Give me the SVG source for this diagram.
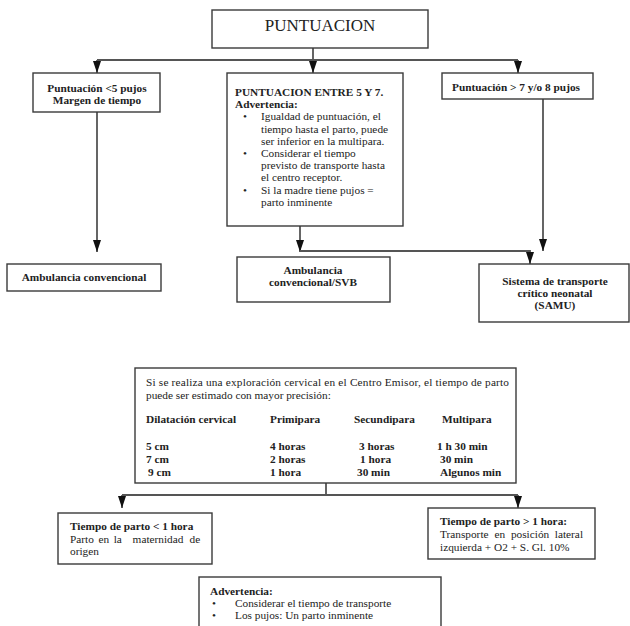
<svg xmlns="http://www.w3.org/2000/svg" width="630" height="626" viewBox="0 0 630 626">
<defs>
<marker id="ah" viewBox="0 0 12 8" refX="12" refY="4" markerWidth="12" markerHeight="8" markerUnits="userSpaceOnUse" orient="auto">
<path d="M0,0 L12,4 L0,8 z" fill="#111"/>
</marker>
<style>
.box{fill:#fff;stroke:#3a3a3a;stroke-width:1.4}
.t{font-family:"Liberation Serif","Times New Roman",serif;font-size:11.3px;fill:#222}
.b{font-weight:bold}
.c{text-anchor:middle}
.ln{fill:none;stroke:#555;stroke-width:1.8}
.ar{marker-end:url(#ah)}
</style>
</defs>
<rect width="630" height="626" fill="#fff"/>

<g id="connectors">
<path class="ln" d="M313,48 V60 M97,60 H518"/>
<path class="ln ar" d="M97,60 V73"/>
<path class="ln ar" d="M313,60 V73"/>
<path class="ln ar" d="M518,60 V73"/>
<path class="ln ar" d="M97,112 V252"/>
<path class="ln ar" d="M300,226 V252"/>
<path class="ln ar" d="M300,251 H530 V264"/>
<path class="ln ar" d="M543,99 V251"/>
<path class="ln" d="M326,483 V495 M122,495 H518"/>
<path class="ln ar" d="M122,495 V508"/>
<path class="ln ar" d="M518,495 V508"/>
</g>

<g id="puntuacion">
<rect class="box" x="212" y="10" width="216" height="38"/>
<text class="t c" x="320" y="31" style="font-size:17px">PUNTUACION</text>
</g>

<g id="menos5">
<rect class="box" x="33" y="73" width="127" height="39"/>
<text class="t b c" x="97" y="92">Puntuación &lt;5 pujos</text>
<text class="t b c" x="97" y="104">Margen de tiempo</text>
</g>

<g id="entre5y7">
<rect class="box" x="227" y="73" width="176" height="153"/>
<text class="t b" x="235" y="96">PUNTUACION ENTRE 5 Y 7.</text>
<text class="t b" x="235" y="108">Advertencia:</text>
<text class="t" x="243" y="120">•</text>
<text class="t" x="261" y="120">Igualdad de puntuación, el</text>
<text class="t" x="261" y="133">tiempo hasta el parto, puede</text>
<text class="t" x="261" y="145">ser inferior en la multipara.</text>
<text class="t" x="243" y="157">•</text>
<text class="t" x="261" y="157">Considerar el tiempo</text>
<text class="t" x="261" y="169">previsto de transporte hasta</text>
<text class="t" x="261" y="181">el centro receptor.</text>
<text class="t" x="243" y="194">•</text>
<text class="t" x="261" y="194">Si la madre tiene pujos =</text>
<text class="t" x="261" y="206">parto inminente</text>
</g>

<g id="mas7">
<rect class="box" x="442" y="73" width="151" height="26"/>
<text class="t b c" x="516" y="91">Puntuación &gt; 7 y/o 8 pujos</text>
</g>

<g id="amb-conv">
<rect class="box" x="7" y="264" width="154" height="27"/>
<text class="t b c" x="84" y="281">Ambulancia convencional</text>
</g>

<g id="amb-svb">
<rect class="box" x="237" y="257" width="153" height="45"/>
<text class="t b c" x="313" y="274">Ambulancia</text>
<text class="t b c" x="313" y="286">convencional/SVB</text>
</g>

<g id="samu">
<rect class="box" x="479" y="264" width="150" height="58"/>
<text class="t b c" x="555" y="285">Sistema de transporte</text>
<text class="t b c" x="555" y="297">crítico neonatal</text>
<text class="t b c" x="555" y="309">(SAMU)</text>
</g>

<g id="tabla">
<rect class="box" x="135" y="368" width="381" height="115"/>
<text class="t" x="146" y="386" textLength="363">Si se realiza una exploración cervical en el Centro Emisor, el tiempo de parto</text>
<text class="t" x="146" y="399">puede ser estimado con mayor precisión:</text>
<text class="t b" x="146" y="423">Dilatación cervical</text>
<text class="t b" x="270" y="423">Primipara</text>
<text class="t b" x="354" y="423">Secundipara</text>
<text class="t b" x="442" y="423">Multipara</text>
<text class="t b" x="146" y="450">5 cm</text>
<text class="t b" x="270" y="450">4 horas</text>
<text class="t b" x="359" y="450">3 horas</text>
<text class="t b" x="437" y="450">1 h 30 min</text>
<text class="t b" x="146" y="463">7 cm</text>
<text class="t b" x="270" y="463">2 horas</text>
<text class="t b" x="360" y="463">1 hora</text>
<text class="t b" x="440" y="463">30 min</text>
<text class="t b" x="148" y="476">9 cm</text>
<text class="t b" x="270" y="476">1 hora</text>
<text class="t b" x="357" y="476">30 min</text>
<text class="t b" x="440" y="476">Algunos min</text>
</g>

<g id="menos1h">
<rect class="box" x="58" y="513" width="154" height="51"/>
<text class="t b" x="70" y="530">Tiempo de parto &lt; 1 hora</text>
<text class="t"><tspan x="70" y="543">Parto</tspan><tspan x="98.4" y="543">en</tspan><tspan x="113.7" y="543">la</tspan><tspan x="132.6" y="543">maternidad</tspan><tspan x="189.5" y="543">de</tspan></text>
<text class="t" x="70" y="555">origen</text>
</g>

<g id="mas1h">
<rect class="box" x="428" y="508" width="167" height="51"/>
<text class="t b" x="440" y="525">Tiempo de parto &gt; 1 hora:</text>
<text class="t"><tspan x="440" y="538">Transporte</tspan><tspan x="494.6" y="538">en</tspan><tspan x="510.9" y="538">posición</tspan><tspan x="554.8" y="538">lateral</tspan></text>
<text class="t" x="440" y="551">izquierda + O2 + S. Gl. 10%</text>
</g>

<g id="advertencia">
<rect class="box" x="199" y="577" width="242" height="60"/>
<text class="t b" x="210" y="595">Advertencia:</text>
<text class="t" x="212" y="607">•</text>
<text class="t" x="235" y="607">Considerar el tiempo de transporte</text>
<text class="t" x="212" y="619">•</text>
<text class="t" x="235" y="619">Los pujos: Un parto inminente</text>
</g>
</svg>
